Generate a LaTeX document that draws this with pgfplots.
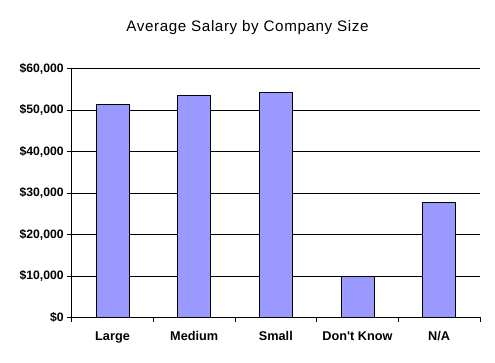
\documentclass[border=0pt]{standalone}
\usepackage{fontspec}
\setmainfont{Liberation Sans}
\newfontfamily\titlefont[LetterSpace=4]{Liberation Sans}
\usepackage{pgfplots}
\pgfplotsset{compat=1.18}
\definecolor{barblue}{RGB}{153,153,255}
\begin{document}
\begin{tikzpicture}[x=1pt,y=1pt]
\path[fill=white] (0,0) rectangle (495,363);
\node[anchor=base, inner sep=0pt, font=\titlefont\fontsize{15.2}{17}\selectfont] at (247.5,331.3) {Average Salary by Company Size};
\begin{axis}[
  at={(71.7pt,45.5pt)}, anchor=south west,
  width=408.3pt, height=249pt, scale only axis,
  xmin=-0.5, xmax=4.5, ymin=0, ymax=60000,
  axis x line*=bottom, axis y line*=left,
  axis line style={black, line width=0.9pt},
  xtick={-0.5,0.5,1.5,2.5,3.5,4.5},
  x tick label as interval,
  xticklabels={Large,Medium,Small,Don\textquotesingle t Know,N/A},
  ytick={0,10000,20000,30000,40000,50000,60000},
  scaled y ticks=false,
  yticklabels={\$0,{\$10,000},{\$20,000},{\$30,000},{\$40,000},{\$50,000},{\$60,000}},
  tick align=outside,
  major tick length=4.5pt,
  tick style={black, line width=0.9pt},
  ymajorgrids,
  grid style={black, line width=0.9pt},
  yticklabel style={font=\bfseries\fontsize{12.2}{14}\selectfont, anchor=east},
  xticklabel style={font=\bfseries\fontsize{12.7}{14}\selectfont, yshift=-6pt},
  ybar, bar width=33pt,
  clip=false,
]
\addplot[fill=barblue, draw=black, line width=0.9pt] coordinates {
  (0,51400) (1,53600) (2,54300) (3,9950) (4,27800)
};
\end{axis}
\end{tikzpicture}
\end{document}
